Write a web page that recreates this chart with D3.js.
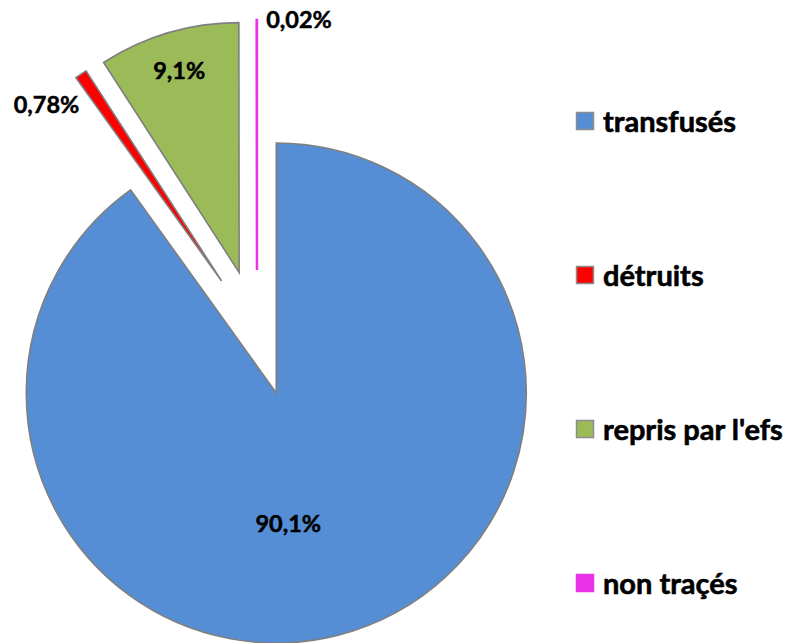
<!DOCTYPE html>
<html><head><meta charset="utf-8">
<script src="https://cdn.jsdelivr.net/npm/d3@7"></script>
<style>body{margin:0;background:#fff}svg{display:block}</style>
</head><body>
<svg id="c" width="796" height="643"></svg>
<script>
const categories = ["transfusés", "détruits", "repris par l'efs", "non traçés"];
const values = [90.1, 0.78, 9.1, 0.02];
const labels = ["90,1%", "0,78%", "9,1%", "0,02%"];
const colors = ["#558ED5", "#FF0000", "#9BBB59", "#E833E8"];
const strokes = ["#7F7F7F", "#7F7F7F", "#7F7F7F", "#E833E8"];

const W = 796, H = 643;
const cx = 257, cy = 333, R = 250, explode = 63;
// label placement relative to exploded slice apex (layout only)
const labelOffsets = [[12, 130], [-175, -177], [-60, -203], [42, -251]];
const FONT = "Lato, 'Open Sans', sans-serif";

const svg = d3.select("#c");
const data = categories.map((c, i) => ({cat: c, value: values[i], label: labels[i], color: colors[i], stroke: strokes[i], i}));
const pie = d3.pie().value(d => d.value).sort(null).startAngle(0).endAngle(2 * Math.PI);
const arc = d3.arc().innerRadius(0).outerRadius(R);
const arcs = pie(data);

const g = svg.append("g").attr("transform", `translate(${cx},${cy})`);
const slices = g.selectAll("g.slice").data(arcs).join("g")
  .attr("class", "slice")
  .attr("transform", d => {
    const a = (d.startAngle + d.endAngle) / 2;
    return `translate(${explode * Math.sin(a)},${-explode * Math.cos(a)})`;
  });
slices.append("path")
  .attr("d", arc)
  .attr("fill", d => d.data.color)
  .attr("stroke", d => d.data.stroke)
  .attr("stroke-width", d => d.data.i === 3 ? 2.5 : 1.6)
  .attr("stroke-linejoin", "miter");
slices.append("text")
  .attr("x", d => labelOffsets[d.data.i][0])
  .attr("y", d => labelOffsets[d.data.i][1])
  .attr("text-anchor", "middle")
  .attr("dominant-baseline", "central")
  .attr("font-family", FONT)
  .attr("font-weight", "bold")
  .attr("font-size", 23.5)
  .attr("fill", "#000")
  .attr("stroke", "#000")
  .attr("stroke-width", 0.5)
  .text(d => d.data.label);

// legend
const ly = d3.scalePoint().domain(categories).range([121, 583]);
const leg = svg.append("g").selectAll("g").data(data).join("g")
  .attr("transform", d => `translate(576,${ly(d.cat)})`);
leg.append("rect")
  .attr("x", 0.5).attr("y", -8.5).attr("width", 17).attr("height", 17)
  .attr("fill", d => d.color)
  .attr("stroke", d => d.i === 3 ? d.color : "#8C8C8C")
  .attr("stroke-width", 1.5);
leg.append("text")
  .attr("x", 27).attr("y", -1)
  .attr("dominant-baseline", "central")
  .attr("font-family", FONT)
  .attr("font-weight", "bold")
  .attr("font-size", 29)
  .attr("fill", "#000")
  .attr("stroke", "#000")
  .attr("stroke-width", 0.6)
  .text(d => d.cat);
</script>
</body></html>
